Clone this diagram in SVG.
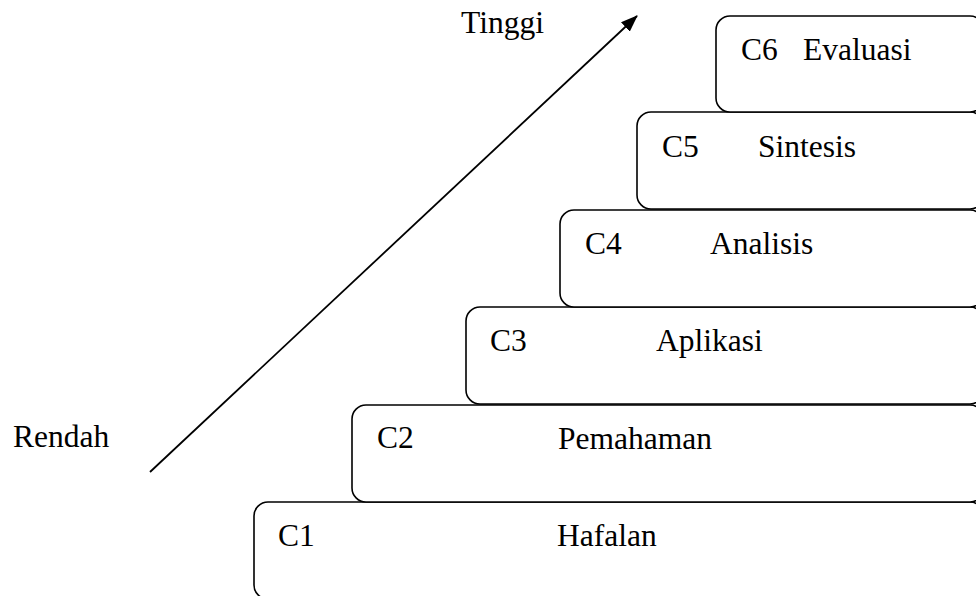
<svg xmlns="http://www.w3.org/2000/svg" width="976" height="596" viewBox="0 0 976 596">
<style>
.box{fill:#fff;stroke:#000;stroke-width:1.6}
text{font-family:"Liberation Serif","Times New Roman",serif;font-size:31.5px;fill:#000}
.conn{stroke:#000;stroke-width:1.8;fill:none}
</style>
<defs>
<marker id="ah" markerWidth="17" markerHeight="13" refX="16" refY="6.5" orient="auto" markerUnits="userSpaceOnUse" viewBox="0 0 17 13">
<path d="M0,0 L17,6.5 L0,13 z" fill="#000"/>
</marker>
</defs>
<rect width="976" height="596" fill="#fff"/>
<g id="c1">
<rect class="box" x="254" y="502" width="730" height="97" rx="14"/>
<text x="278" y="546">C1</text>
<text x="557" y="546">Hafalan</text>
</g>
<g id="c2">
<rect class="box" x="352" y="405" width="632" height="97" rx="14"/>
<text x="377" y="448">C2</text>
<text x="558" y="449">Pemahaman</text>
</g>
<g id="c3">
<rect class="box" x="466" y="307" width="518" height="97" rx="14"/>
<text x="490" y="351">C3</text>
<text x="656" y="351">Aplikasi</text>
</g>
<g id="c4">
<rect class="box" x="560" y="210" width="424" height="97" rx="14"/>
<text x="585" y="254">C4</text>
<text x="710" y="254">Analisis</text>
</g>
<g id="c5">
<rect class="box" x="637" y="112" width="347" height="97" rx="14"/>
<text x="662" y="157">C5</text>
<text x="758" y="157">Sintesis</text>
</g>
<g id="c6">
<rect class="box" x="716" y="16" width="268" height="96" rx="14"/>
<text x="741" y="60">C6</text>
<text x="803" y="60">Evaluasi</text>
</g>
<g id="labels">
<text x="461" y="33">Tinggi</text>
<text x="13" y="447">Rendah</text>
</g>
<g id="connectors">
<line class="conn" x1="150" y1="472" x2="637" y2="16" marker-end="url(#ah)"/>
</g>
</svg>
